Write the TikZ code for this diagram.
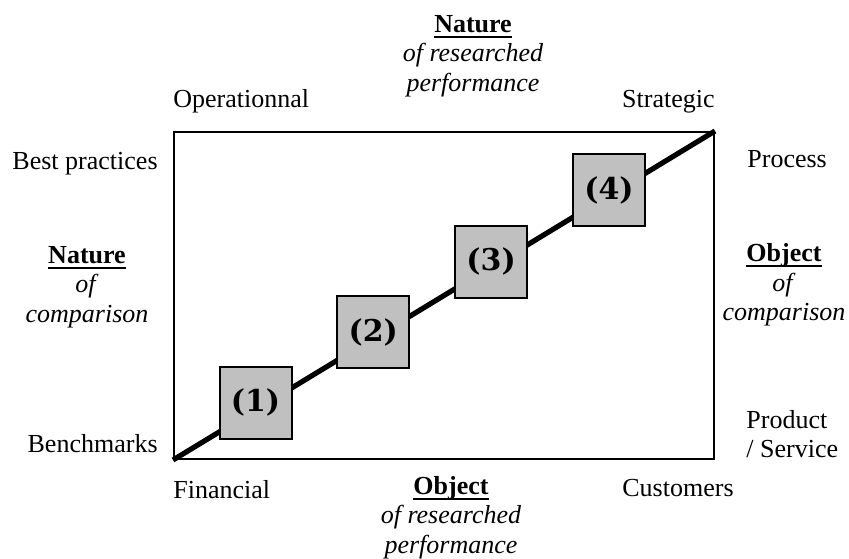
\documentclass[tikz,border=0pt]{standalone}
\usepackage{fontspec}
\setmainfont{Liberation Serif}
\newfontfamily\numfont{DejaVu Serif}
\usepackage{xcolor}
\usetikzlibrary{positioning}
\definecolor{boxgray}{HTML}{C0C0C0}
\newcommand{\heading}[1]{\setbox0\hbox{\textbf{#1}}\rlap{\textbf{#1}}\rule[-2.6pt]{\wd0}{0.9pt}}

\begin{document}
\begin{tikzpicture}[x=0.5pt, y=-0.5pt, every node/.style={inner sep=0pt, font=\fontsize{13}{14.75}\selectfont}]
      \tikzstyle{stage}=[draw=black, line width=1pt, fill=boxgray, minimum size=36pt, font=\numfont\bfseries\fontsize{15}{18}\selectfont]
      \tikzstyle{axis title}=[align=center, anchor=north]

      \useasboundingbox (0,0) rectangle (849,558);

      \node[draw, line width=1pt, minimum width=270pt, minimum height=163.5pt] (frame) at (444,295.5) {};
      \draw[line width=2.6pt] (frame.south west) -- (frame.north east);

      \node[stage] (s1) at (255.5,402.5) {(1)};
      \node[stage] (s2) at (373.3,332) {(2)};
      \node[stage] (s3) at (491.1,261.5) {(3)};
      \node[stage] (s4) at (609,190) {(4)};

      \node[above=12pt of frame.north west, anchor=base west] (oper) {Operationnal};
      \node[above=12pt of frame.north east, anchor=base east] (strat) {Strategic};
      \node[below=19pt of frame.south west, anchor=base west] (fin) {Financial};
      \node[below=18pt of frame.south east, xshift=9.5pt, anchor=base east] (cust) {Customers};

      \node[anchor=base east] (best) at (158,169) {Best practices};
      \node[anchor=base east] (bench) at (158,452) {Benchmarks};
      \node[anchor=base west] (proc) at (747,167) {Process};
      \node[align=left, anchor=north west] (prod) at (746,410) {Product\\/ Service};

      \node[axis title] (natperf) at (473,15) {\heading{Nature}\\\textit{of researched}\\\textit{performance}};
      \node[axis title] (natcomp) at (87,246) {\heading{Nature}\\\textit{of}\\\textit{comparison}};
      \node[axis title] (objcomp) at (784,243.5) {\heading{Object}\\\textit{of}\\\textit{comparison}};
      \node[axis title] (objperf) at (451,476) {\heading{Object}\\\textit{of researched}\\\textit{performance}};

      \end{tikzpicture}
\end{document}
